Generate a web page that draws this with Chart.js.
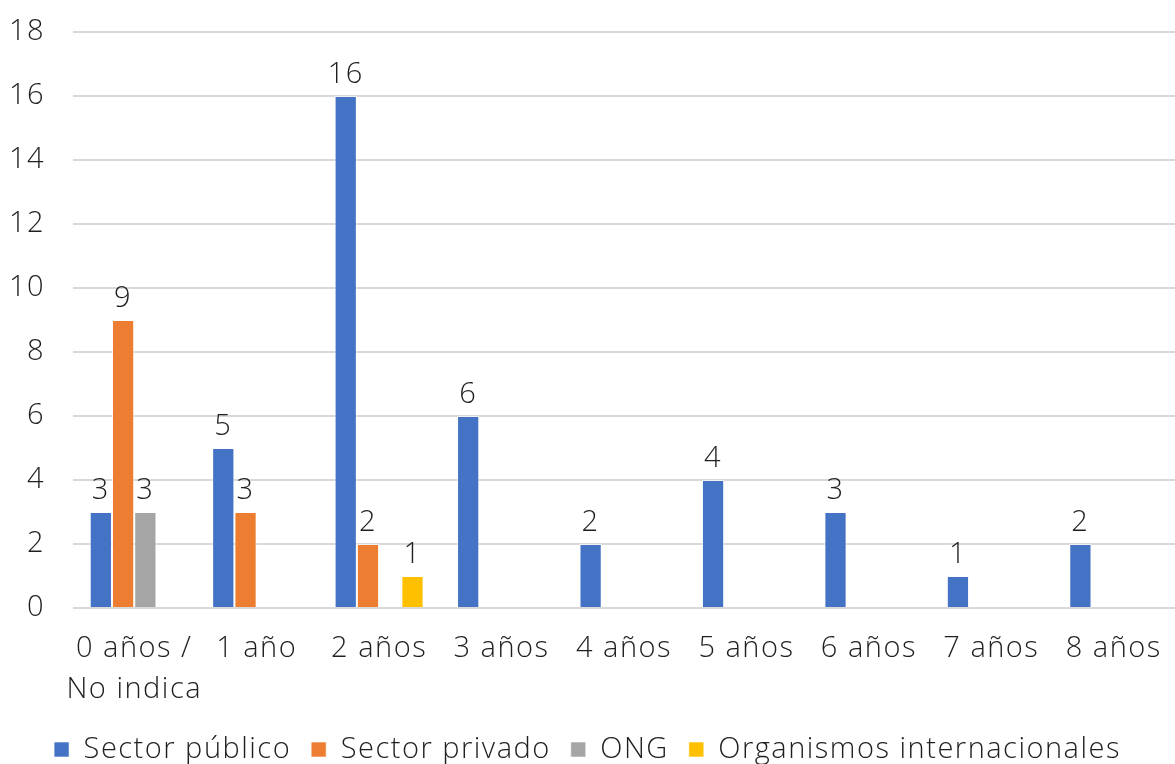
<!DOCTYPE html>
<html>
<head>
<meta charset="utf-8">
<script src="https://cdn.jsdelivr.net/npm/chart.js@4"></script>
<style>
  html, body { margin: 0; padding: 0; background: #fff; }
  #wrap { width: 1175px; height: 764px; }
</style>
</head>
<body>
<div id="wrap"><canvas id="chart" width="1175" height="764"></canvas></div>
<script>
const categories = [["0 años /", "No indica"], "1 año", "2 años", "3 años", "4 años", "5 años", "6 años", "7 años", "8 años"];
const sectorPublico = [3, 5, 16, 6, 2, 4, 3, 1, 2];
const sectorPrivado = [9, 3, 2, null, null, null, null, null, null];
const ong = [3, null, null, null, null, null, null, null, null];
const organismos = [null, null, 1, null, null, null, null, null, null];
const seriesNames = ["Sector público", "Sector privado", "ONG", "Organismos internacionales"];
const seriesColors = ["#4472C4", "#ED7D31", "#A5A5A5", "#FFC000"];

const FONT = "'Open Sans', sans-serif";
const WEIGHT = 300;
const SIZE = 29;
const TEXT = "#1f1f1f";
const SPACING = "1.5px";

// la fuente original es más ancha: un poco de espaciado entre letras
const letterSpacing = {
  id: "letterSpacing",
  beforeLayout(chart) { chart.ctx.letterSpacing = SPACING; },
  beforeDraw(chart) { chart.ctx.letterSpacing = SPACING; }
};

// etiquetas de valor encima de cada barra
const valueLabels = {
  id: "valueLabels",
  afterDatasetsDraw(chart) {
    const ctx = chart.ctx;
    ctx.save();
    ctx.font = WEIGHT + " " + SIZE + "px " + FONT;
    ctx.fillStyle = TEXT;
    ctx.textAlign = "center";
    ctx.textBaseline = "middle";
    chart.data.datasets.forEach((ds, i) => {
      chart.getDatasetMeta(i).data.forEach((bar, j) => {
        const v = ds.data[j];
        if (v == null) return;
        ctx.fillText(String(v), bar.x, bar.y - 21);
      });
    });
    ctx.restore();
  }
};

const datasets = [sectorPublico, sectorPrivado, ong, organismos].map((d, i) => ({
  label: seriesNames[i],
  data: d,
  backgroundColor: seriesColors[i],
  borderColor: "rgba(255,255,255,0.6)",
  borderWidth: 1,
  barPercentage: 1,
  categoryPercentage: 0.727
}));

new Chart(document.getElementById("chart"), {
  type: "bar",
  data: { labels: categories, datasets: datasets },
  options: {
    responsive: false,
    animation: false,
    layout: { padding: { top: 32, right: 0, left: 0, bottom: -10 } },
    plugins: {
      legend: {
        position: "bottom",
        labels: {
          font: { family: FONT, size: SIZE, weight: WEIGHT },
          color: TEXT,
          boxWidth: 15,
          boxHeight: 15,
          padding: 20
        }
      },
      tooltip: { enabled: false }
    },
    scales: {
      x: {
        grid: { display: false, drawTicks: false },
        border: { display: false },
        afterFit(scale) {
          scale.height = 107;
          scale.paddingLeft = 0;
          scale.paddingRight = 0;
        },
        ticks: {
          font: { family: FONT, size: SIZE, weight: WEIGHT, lineHeight: 1.41 },
          color: TEXT,
          maxRotation: 0,
          autoSkip: false,
          padding: 20
        }
      },
      y: {
        min: 0,
        max: 18,
        afterFit(scale) {
          scale.width = 73;
          scale.paddingTop = 0;
          scale.paddingBottom = 0;
        },
        grid: { color: "#d9d9d9", lineWidth: 2, drawTicks: false },
        border: { display: false },
        ticks: {
          stepSize: 2,
          font: { family: FONT, size: SIZE, weight: WEIGHT },
          color: TEXT,
          padding: 28
        }
      }
    }
  },
  plugins: [letterSpacing, valueLabels]
});
</script>
</body>
</html>
